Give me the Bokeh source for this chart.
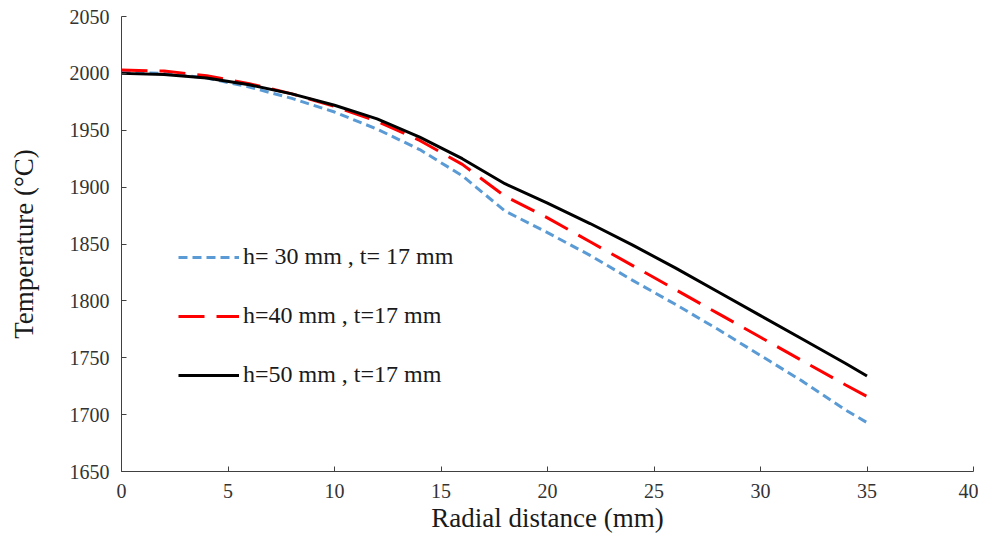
from bokeh.plotting import figure
from bokeh.models import Range1d, Legend, LegendItem, FixedTicker
from bokeh.embed import file_html
from bokeh.resources import INLINE

radial = [0, 2, 4, 6, 8, 10, 12, 14, 16, 18, 20, 22, 24, 26, 28, 30, 32, 34, 35]
temp_h30 = [2001, 2000, 1996, 1988, 1978, 1966, 1951, 1933, 1910, 1879, 1860, 1840, 1818, 1797, 1775, 1752, 1729, 1704, 1693]
temp_h40 = [2003, 2002, 1998, 1991, 1982, 1971, 1958, 1941, 1920, 1892, 1873, 1852, 1831, 1810, 1789, 1768, 1747, 1726, 1716]
temp_h50 = [2000, 1999, 1996, 1990, 1982, 1972, 1960, 1944, 1925, 1903, 1886, 1868, 1849, 1829, 1808, 1787, 1766, 1745, 1734]
labels = ["h= 30 mm , t= 17 mm", "h=40 mm , t=17 mm", "h=50 mm , t=17 mm"]
x_ticks = [0, 5, 10, 15, 20, 25, 30, 35, 40]
y_ticks = [1650, 1700, 1750, 1800, 1850, 1900, 1950, 2000, 2050]

FONT = "Liberation Serif"

p = figure(width=978, height=535, output_backend="svg", toolbar_location=None,
           x_range=Range1d(0, 40), y_range=Range1d(1650, 2050),
           min_border_left=121, min_border_right=5, min_border_top=16, min_border_bottom=63)
p.outline_line_color = None
p.grid.grid_line_color = None

r1 = p.line(radial, temp_h30, line_color="#5B9BD5", line_width=3, line_dash="9 5")
r2 = p.line(radial, temp_h40, line_color="#FF0000", line_width=3, line_dash="26 12")
r3 = p.line(radial, temp_h50, line_color="#000000", line_width=3)

for ax in (p.xaxis[0], p.yaxis[0]):
    ax.axis_line_color = "#404040"
    ax.major_tick_line_color = "#404040"
    ax.major_tick_in = 5
    ax.major_tick_out = 0
    ax.minor_tick_line_color = None
    ax.major_label_text_font = FONT
    ax.major_label_text_font_size = "20px"
    ax.major_label_text_color = "#333333"
    ax.axis_label_text_font = FONT
    ax.axis_label_text_font_size = "27px"
    ax.axis_label_text_font_style = "normal"
    ax.axis_label_text_color = "#1a1a1a"

p.xaxis.ticker = FixedTicker(ticks=x_ticks)
p.yaxis.ticker = FixedTicker(ticks=y_ticks)
p.xaxis.axis_label = "Radial distance (mm)"
p.yaxis.axis_label = "Temperature (°C)"
p.xaxis.major_label_standoff = 12
p.yaxis.major_label_standoff = 12
p.xaxis.axis_label_standoff = 2
p.yaxis.axis_label_standoff = 28

legend = Legend(items=[LegendItem(label=labels[0], renderers=[r1]),
                       LegendItem(label=labels[1], renderers=[r2]),
                       LegendItem(label=labels[2], renderers=[r3])],
                location=(57, 83), glyph_width=61, glyph_height=20, label_height=20,
                spacing=32, padding=5, margin=0, label_standoff=4,
                label_text_font=FONT, label_text_font_size="24px",
                label_text_color="#1a1a1a",
                border_line_color=None, background_fill_alpha=0)
p.add_layout(legend)

open("out.html", "w").write(file_html(p, INLINE))
